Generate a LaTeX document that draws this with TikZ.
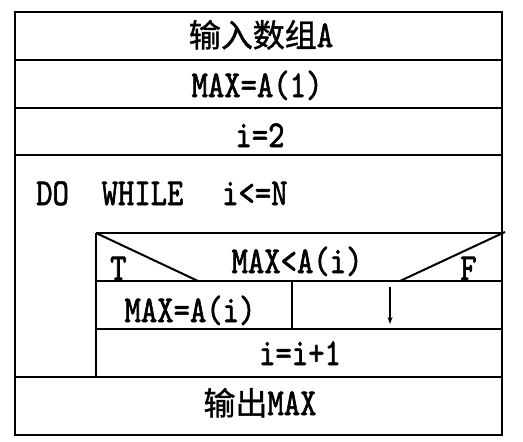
\documentclass[tikz,border=0pt]{standalone}
\usepackage{fontspec}
\usetikzlibrary{arrows.meta}
\newfontfamily\cjk[FakeBold=1.2]{Noto Sans CJK SC}
\newfontfamily\lat{lmmono10-regular.otf}[FakeStretch=0.82,FakeBold=1.6]
\newcommand\latf{\lat\fontsize{38}{38}\selectfont}
\newcommand\cjkf{\cjk\fontsize{32}{32}\selectfont}
\tikzset{
  box/.style={line width=2pt},
  txt/.style={anchor=base, inner sep=0pt, font=\latf},
  lbl/.style={anchor=base west, inner sep=0pt, font=\latf},
}
\begin{document}
\begin{tikzpicture}[x=1pt,y=-1pt]
\useasboundingbox (0,0) rectangle (523,442);
% outer frame and rows
\coordinate (TL) at (15,12);
\coordinate (BR) at (502,435);
\draw[box] (TL) rectangle (BR);
\draw[box] (15,60) -- (502,60);
\draw[box] (15,108) -- (502,108);
\draw[box] (15,155) -- (502,155);
\draw[box] (15,377) -- (502,377);
% loop body
\draw[box] (96,233) -- (502,233);
\draw[box] (96,233) -- (96,377);
\draw[box] (96,281) -- (502,281);
\draw[box] (96,329) -- (502,329);
\draw[box] (292,281) -- (292,329);
% condition triangle lines
\draw[box] (96,233) -- (198,281);
\draw[box] (505,232) -- (400,281);
% texts
\node[txt] (in) at (261,47) {{\cjkf 输入数组}A};
\node[txt] (m1) at (257,97) {MAX=A(1)};
\node[txt] (i2) at (260,147) {i=2};
\node[lbl] (dw) at (36,205) {DO~~WHILE~~\hspace{6pt}i<=N};
\node[txt] (cond) at (297,273) {MAX<A(i)};
\node[lbl] (t) at (110,280) {T};
\node[lbl] (f) at (460,280) {F};
\node[txt] (mi) at (190,322) {MAX=A(i)};
\coordinate (a1) at (390,287);
\coordinate (a2) at (390,324);
\draw[line width=1.3pt,-{Stealth[length=7pt,width=5pt]}] (a1) -- (a2);
\node[txt] (inc) at (300,365) {i=i+1};
\node[txt] (out) at (260,415) {{\cjkf 输出}MAX};
\end{tikzpicture}
\end{document}
